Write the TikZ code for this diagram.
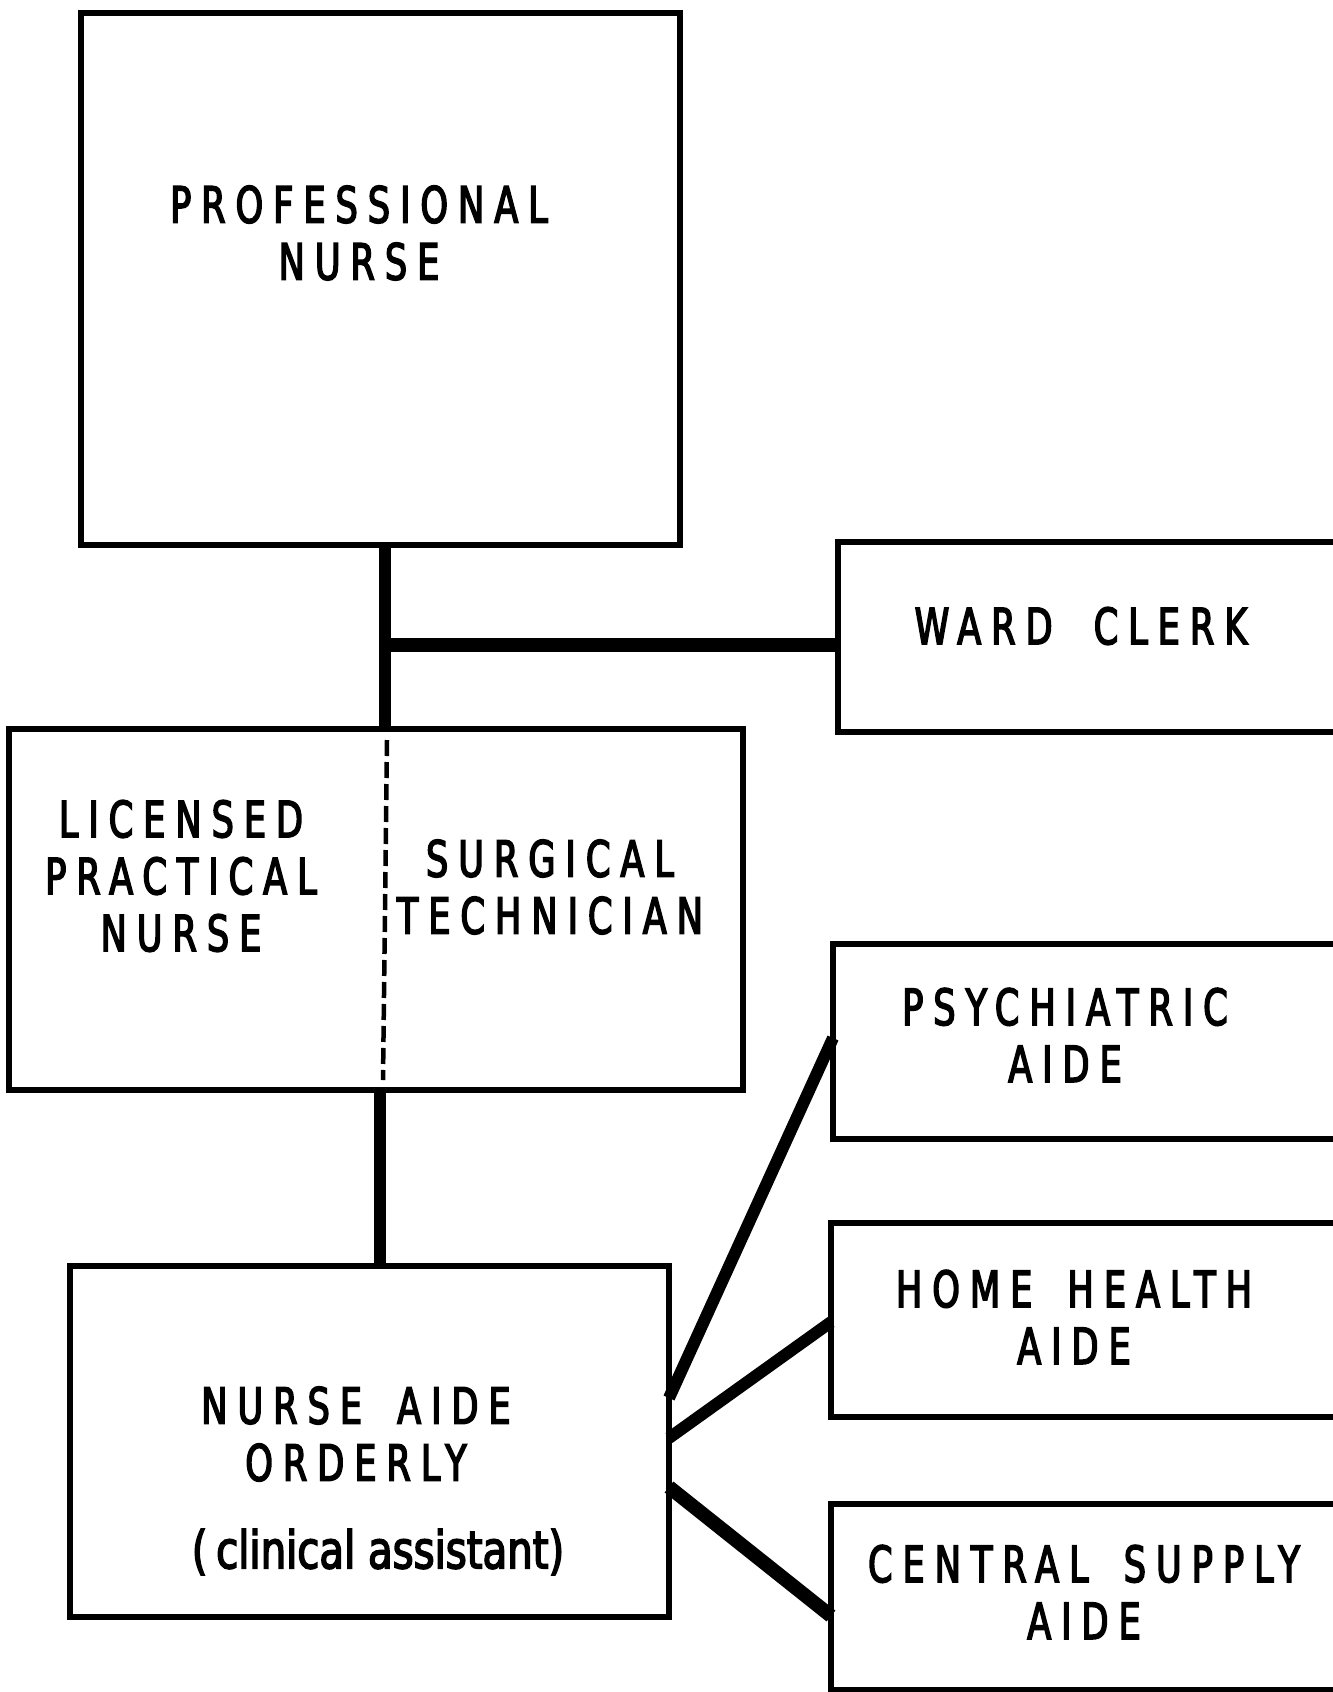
\documentclass[tikz,border=0pt]{standalone}
\usepackage{fontspec}
\newfontfamily\labfont[LetterSpace=20, FakeStretch=0.78, FakeBold=3]{DejaVu Sans Condensed}
\newfontfamily\plainfont[FakeStretch=0.86, FakeBold=3]{DejaVu Sans Condensed}
\tikzset{
  box/.style={draw, line width=6pt, outer sep=0pt, inner sep=0pt},
  lab/.style={align=center, inner sep=0pt, font=\labfont\fontsize{50pt}{57pt}\selectfont},
  conn/.style={line width=12pt},
  connthick/.style={line width=14pt}
}
\begin{document}
\begin{tikzpicture}[x=1pt,y=-1pt]
\useasboundingbox (0,0) rectangle (1333,1692);
\clip (0,0) rectangle (1333,1692);
% boxes
\node[box, minimum width=599pt, minimum height=532pt] (prof) at (380.5,279) {};
\node[box, minimum width=507pt, minimum height=190pt] (ward) at (1091.5,637) {};
\node[box, minimum width=734pt, minimum height=361pt] (lpn) at (376,909.5) {};
\node[box, minimum width=512pt, minimum height=195pt] (psych) at (1089,1041.5) {};
\node[box, minimum width=514pt, minimum height=194pt] (home) at (1088,1320) {};
\node[box, minimum width=514pt, minimum height=186pt] (central) at (1088,1597) {};
\node[box, minimum width=599pt, minimum height=351pt] (aide) at (369.5,1441.5) {};
% labels
\node[lab] (tprof) at (359,233) {PROFESSIONAL\\NURSE};
\node[lab] (tward) at (1081,626) {WARD\hspace{20pt} CLERK};
\node[lab] (tlpn) at (181,876) {LICENSED\\PRACTICAL\\NURSE};
\node[lab] (tsurg) at (550,887) {SURGICAL\\TECHNICIAN};
\node[lab] (tpsych) at (1065,1035) {PSYCHIATRIC\\AIDE};
\node[lab] (thome) at (1074,1317) {HOME\hspace{14pt} HEALTH\\AIDE};
\node[lab] (tcentral) at (1084,1592) {CENTRAL\hspace{14pt} SUPPLY\\AIDE};
\node[lab] (taide) at (356,1434) {NURSE\hspace{14pt} AIDE\\ORDERLY};
\node[inner sep=0pt, font=\plainfont\fontsize{52pt}{57pt}\selectfont] (tclin) at (378,1552) {(\,clinical assistant)};
% divider
\coordinate (d1) at (387,740);
\coordinate (d2) at (383,1080);
\draw[line width=4.5pt, dash pattern=on 16pt off 6pt] (d1) -- (d2);
% connectors
\coordinate (j1) at (385,645);
\coordinate (j2) at (380,1100);
\draw[conn] (prof.south -| j1) -- (lpn.north -| j1);
\draw[connthick] (j1) -- (ward.west |- j1);
\draw[conn] (lpn.south -| j2) -- (aide.north -| j2);
\coordinate (a1) at (669,1398);
\coordinate (a2) at (669,1438);
\coordinate (a3) at (669,1487);
\coordinate (b1) at (833,1038);
\coordinate (b2) at (831,1322);
\coordinate (b3) at (831,1616);
\draw[conn] (aide.east |- a1) -- (psych.west |- b1);
\draw[conn] (aide.east |- a2) -- (home.west |- b2);
\draw[connthick] (aide.east |- a3) -- (central.west |- b3);
\end{tikzpicture}
\end{document}
